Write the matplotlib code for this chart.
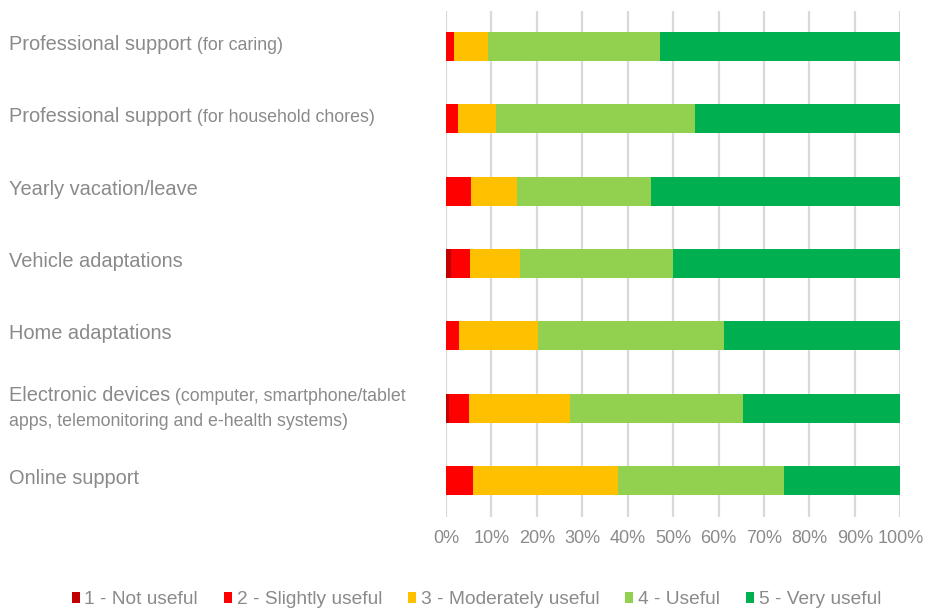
import matplotlib
matplotlib.use("Agg")
import matplotlib.pyplot as plt
from matplotlib.patches import Patch
import numpy as np

# ---- data ----
main_labels = ["Professional support", "Professional support", "Yearly vacation/leave",
               "Vehicle adaptations", "Home adaptations", "Electronic devices", "Online support"]
sub_labels = [" (for caring)", " (for household chores)", "", "", "",
              " (computer, smartphone/tablet", ""]
second_lines = ["", "", "", "", "", "apps, telemonitoring and e-health systems)", ""]

series_names = ["1 - Not useful", "2 - Slightly useful", "3 - Moderately useful",
                "4 - Useful", "5 - Very useful"]
not_useful      = [0.0, 0.0, 0.0, 1.0, 0.0, 0.6, 0.0]
slightly_useful = [1.8, 2.6, 5.5, 4.3, 2.9, 4.5, 5.9]
moderately      = [7.4, 8.4, 10.2, 11.0, 17.3, 22.1, 31.9]
useful          = [37.9, 43.8, 29.4, 33.6, 41.0, 38.2, 36.6]
very_useful     = [52.9, 45.2, 54.9, 50.1, 38.8, 34.6, 25.6]

x_ticks = [0, 10, 20, 30, 40, 50, 60, 70, 80, 90, 100]
tick_labels = [f"{t}%" for t in x_ticks]

colors = ["#C00000", "#FF0000", "#FFC000", "#92D050", "#00B050"]
gray = "#8a8a8a"

plt.rcParams['font.family'] = ['Liberation Sans', 'DejaVu Sans']

fig = plt.figure(figsize=(9.25, 6.08), dpi=100)
ax = fig.add_axes([446/925, 1-516.5/608, (900.3-446)/925, (516.5-10.5)/608])

series = [not_useful, slightly_useful, moderately, useful, very_useful]
y = np.arange(len(main_labels))
left = np.zeros(len(main_labels))
for vals, c, name in zip(series, colors, series_names):
    vals = np.array(vals)
    ax.barh(y, vals, left=left, height=0.4, color=c, label=name, zorder=3, linewidth=0)
    left += vals

ax.set_xlim(0, 100)
ax.set_ylim(len(main_labels) - 0.5, -0.5)
ax.set_xticks(x_ticks)
ax.set_xticklabels(tick_labels, fontsize=13, color=gray)
ax.set_yticks([])
ax.tick_params(axis='x', length=0, pad=10)
for s in ax.spines.values():
    s.set_visible(False)
ax.grid(axis='x', color="#d9d9d9", linewidth=1.6, zorder=0)
ax.set_axisbelow(True)

# category labels
for i in range(len(main_labels)):
    if second_lines[i]:
        off1, off2 = 4.8, -13.2
    else:
        off1 = -2.5
    t1 = ax.annotate(main_labels[i], xy=(9/925, i), xycoords=(fig.transFigure, ax.transData),
                     xytext=(0, off1), textcoords='offset points', va='baseline', ha='left',
                     fontsize=14.4, color=gray, annotation_clip=False)
    if sub_labels[i]:
        ax.annotate(sub_labels[i], xy=(1, i), xycoords=(t1, ax.transData),
                    xytext=(0, off1), textcoords='offset points', va='baseline', ha='left',
                    fontsize=12.8, color=gray, annotation_clip=False)
    if second_lines[i]:
        ax.annotate(second_lines[i], xy=(9/925, i), xycoords=(fig.transFigure, ax.transData),
                    xytext=(0, off2), textcoords='offset points', va='baseline', ha='left',
                    fontsize=12.8, color=gray, annotation_clip=False)

handles = [Patch(facecolor=c, edgecolor='none') for c in colors]
leg = fig.legend(handles, series_names, loc='center', bbox_to_anchor=(0.515, 1-600/608),
                 ncol=5, frameon=False, fontsize=13.8, handlelength=0.42, handleheight=0.55,
                 handletextpad=0.25, columnspacing=1.35, borderaxespad=0)
for t in leg.get_texts():
    t.set_color(gray)

fig.savefig("out.png", dpi=100)
